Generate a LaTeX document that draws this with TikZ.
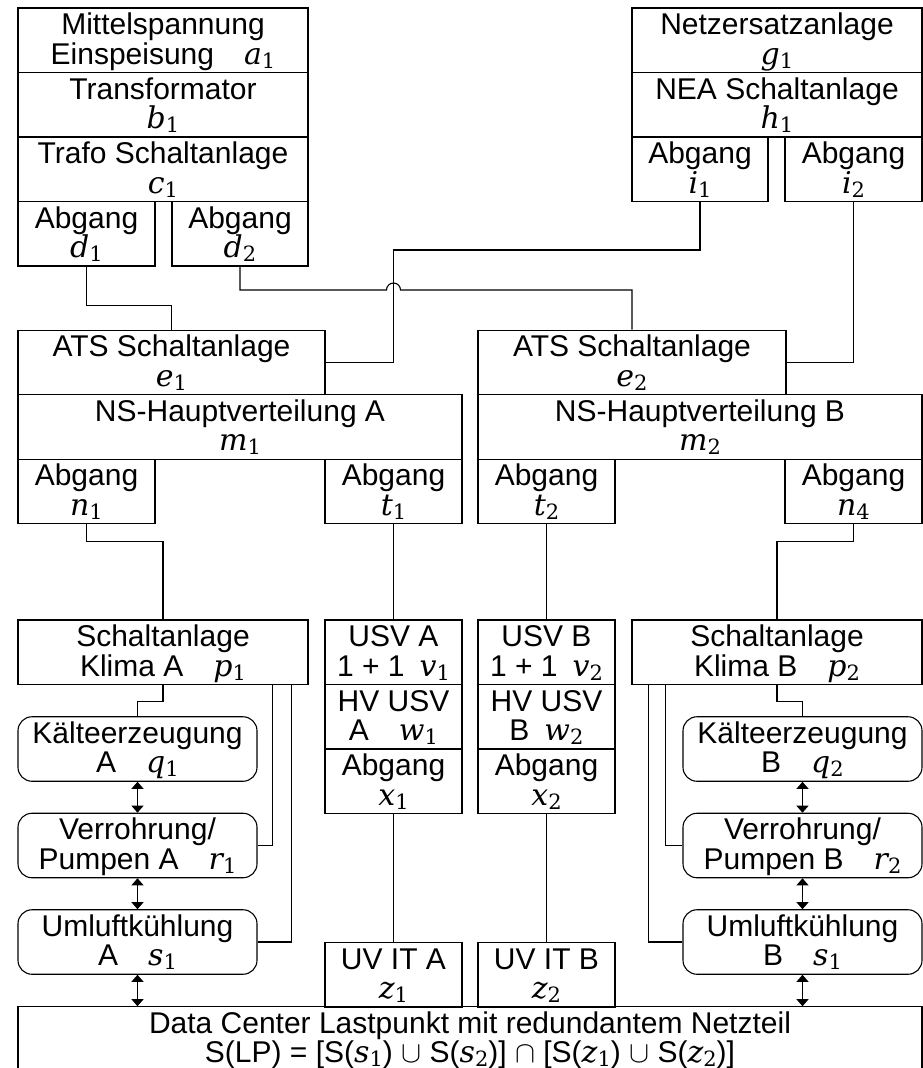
\RequirePackage{fix-cm}
\documentclass[tikz,border=0pt]{standalone}
\usepackage{fontspec}
\setmainfont{Liberation Sans}
\newfontfamily\symfont{DejaVu Serif}
\usetikzlibrary{arrows.meta,calc}
\newcommand{\sym}[2]{{\symfont\itshape #1}\raisebox{-4pt}{\symfont\fontsize{21}{21}\selectfont #2}}
\newcommand{\lines}[2]{\rule{0pt}{26.5pt}#1\\\raisebox{0pt}[\height][0pt]{#2}\rule[-8.5pt]{0pt}{0pt}}

\begin{document}
\begin{tikzpicture}[x=1pt,y=-1pt,
    box/.style={draw, line width=1.1pt, inner sep=0pt, align=center, minimum height=64.5pt, font=\fontsize{30}{29.5}\selectfont},
    roundbox/.style={box, rounded corners=14pt, minimum width=239pt, minimum height=64pt},
    link/.style={line width=1.1pt},
    both/.style={link, {Triangle[width=12pt,length=7pt]}-{Triangle[width=12pt,length=7pt]}}]
    \useasboundingbox (0,0) rectangle (923,1068);
    \node[box, minimum width=290pt] (a1) at (163,40.25) {\lines{Mittelspannung}{Einspeisung\quad\sym{a}{1}}};
    \node[box, minimum width=290pt] (b1) at (163,104.75) {\lines{Transformator}{\sym{b}{1}}};
    \node[box, minimum width=290pt] (c1) at (163,169.25) {\lines{Trafo Schaltanlage}{\sym{c}{1}}};
    \node[box, minimum width=137pt] (d1) at (86.5,233.75) {\lines{Abgang}{\sym{d}{1}}};
    \node[box, minimum width=136pt] (d2) at (240,233.75) {\lines{Abgang}{\sym{d}{2}}};
    \node[box, minimum width=290pt] (g1) at (777,40.25) {\lines{Netzersatzanlage}{\sym{g}{1}}};
    \node[box, minimum width=290pt] (h1) at (777,104.75) {\lines{NEA Schaltanlage}{\sym{h}{1}}};
    \node[box, minimum width=136pt] (i1) at (700,169.25) {\lines{Abgang}{\sym{i}{1}}};
    \node[box, minimum width=137pt] (i2) at (853.5,169.25) {\lines{Abgang}{\sym{i}{2}}};
    \node[box, minimum width=307pt] (e1) at (171.5,362.5) {\lines{ATS Schaltanlage}{\sym{e}{1}}};
    \node[box, minimum width=308pt] (e2) at (632,362.5) {\lines{ATS Schaltanlage}{\sym{e}{2}}};
    \node[box, minimum width=444pt] (m1) at (240,427) {\lines{NS-Hauptverteilung A}{\sym{m}{1}}};
    \node[box, minimum width=444pt] (m2) at (700,427) {\lines{NS-Hauptverteilung B}{\sym{m}{2}}};
    \node[box, minimum width=137pt] (n1) at (86.5,491.5) {\lines{Abgang}{\sym{n}{1}}};
    \node[box, minimum width=137pt] (t1) at (393.5,491.5) {\lines{Abgang}{\sym{t}{1}}};
    \node[box, minimum width=137pt] (t2) at (546.5,491.5) {\lines{Abgang}{\sym{t}{2}}};
    \node[box, minimum width=137pt] (n4) at (853.5,491.5) {\lines{Abgang}{\sym{n}{4}}};
    \node[box, minimum width=290pt] (p1) at (163,652.25) {\lines{Schaltanlage}{Klima A\quad\sym{p}{1}}};
    \node[box, minimum width=137pt] (v1) at (393.5,652.25) {\lines{USV A}{1 + 1\enspace\sym{v}{1}}};
    \node[box, minimum width=137pt] (w1) at (393.5,716.75) {\lines{HV USV}{A\quad\sym{w}{1}}};
    \node[box, minimum width=137pt] (x1) at (393.5,781.25) {\lines{Abgang}{\sym{x}{1}}};
    \node[box, minimum width=137pt] (v2) at (546.5,652.25) {\lines{USV B}{1 + 1\enspace\sym{v}{2}}};
    \node[box, minimum width=137pt] (w2) at (546.5,716.75) {\lines{HV USV}{B\enspace\sym{w}{2}}};
    \node[box, minimum width=137pt] (x2) at (546.5,781.25) {\lines{Abgang}{\sym{x}{2}}};
    \node[box, minimum width=290pt] (p2) at (777,652.25) {\lines{Schaltanlage}{Klima B\quad\sym{p}{2}}};
    \node[roundbox] (q1) at (137.5,749) {\lines{Kälteerzeugung}{A\quad\sym{q}{1}}};
    \node[roundbox] (r1) at (137.5,845.5) {\lines{Verrohrung/}{Pumpen A\quad\sym{r}{1}}};
    \node[roundbox] (s1) at (137.5,942) {\lines{Umluftkühlung}{A\quad\sym{s}{1}}};
    \node[roundbox] (q2) at (802.5,749) {\lines{Kälteerzeugung}{B\quad\sym{q}{2}}};
    \node[roundbox] (r2) at (802.5,845.5) {\lines{Verrohrung/}{Pumpen B\quad\sym{r}{2}}};
    \node[roundbox] (s2) at (802.5,942) {\lines{Umluftkühlung}{B\quad\sym{s}{1}}};
    \node[box, minimum width=137pt, minimum height=64pt] (z1) at (393.5,975) {\lines{UV IT A}{\sym{z}{1}}};
    \node[box, minimum width=137pt, minimum height=64pt] (z2) at (546.5,975) {\lines{UV IT B}{\sym{z}{2}}};
    \node[box, minimum width=904pt, minimum height=64pt] (lp) at (470,1039) {\lines{Data Center Lastpunkt mit redundantem Netzteil}{S(LP) = [S(\sym{s}{1}) $\cup$ S(\sym{s}{2})] $\cap$ [S(\sym{z}{1}) $\cup$ S(\sym{z}{2})]}};
    \coordinate (cross) at (393.5,290);
    \draw[link] (d1.south) -- ++(0,39) -| (e1.north);
    \draw[link] (d2.south) |- ($(cross)+(-7,0)$) arc[start angle=180, end angle=0, radius=7pt] -| (e2.north);
    \draw[link] (e1.east) -| (cross) -- ++(0,-40) -| (i1.south);
    \draw[link] (i2.south) |- (e2.east);
    \draw[link] (n1.south) -- ++(0,17) -| (p1.north);
    \draw[link] (t1.south) -- (v1.north);
    \draw[link] (t2.south) -- (v2.north);
    \draw[link] (n4.south) -- ++(0,17) -| (p2.north);
    \draw[link] (p1.south) -- ++(0,16) -| (q1.north);
    \draw[link] ($(p1.south east)+(-36,0)$) |- (r1.east);
    \draw[link] ($(p1.south east)+(-17,0)$) |- (s1.east);
    \draw[link] (p2.south) -- ++(0,16) -| (q2.north);
    \draw[link] ($(p2.south west)+(34,0)$) |- (r2.west);
    \draw[link] ($(p2.south west)+(17,0)$) |- (s2.west);
    \draw[link] (x1.south) -- (z1.north);
    \draw[link] (x2.south) -- (z2.north);
    \draw[both] (q1.south) -- (r1.north);
    \draw[both] (r1.south) -- (s1.north);
    \draw[both] (s1.south) -- (s1.south |- lp.north);
    \draw[both] (q2.south) -- (r2.north);
    \draw[both] (r2.south) -- (s2.north);
    \draw[both] (s2.south) -- (s2.south |- lp.north);
\end{tikzpicture}
\end{document}
